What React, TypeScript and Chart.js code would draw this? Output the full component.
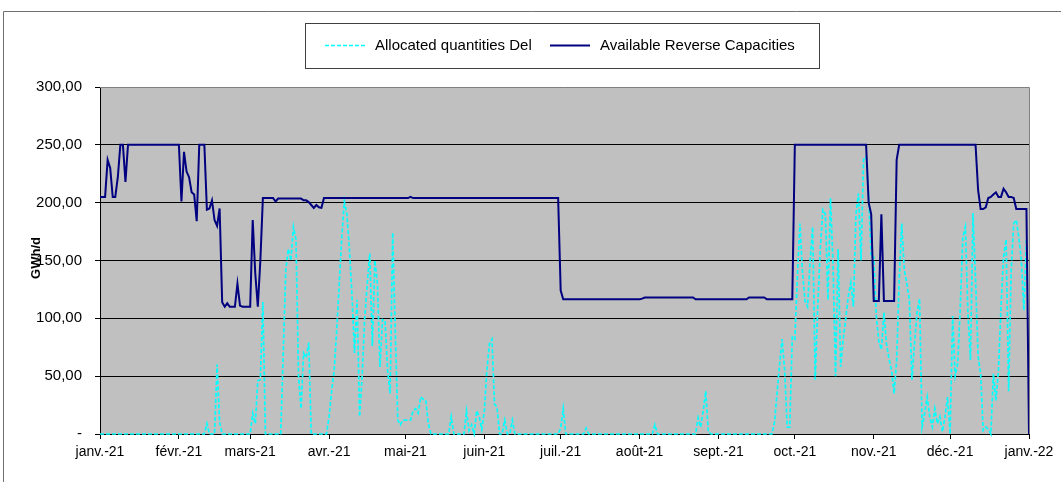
import React, { useEffect, useRef } from 'react';
import { Chart, registerables } from 'chart.js';

Chart.register(...registerables);

// Month tick positions (day index from 1 Jan 2021) and their labels
const monthStarts = [0, 31, 59, 90, 120, 151, 181, 212, 243, 273, 304, 334, 365];
const monthLabels = ['janv.-21', 'févr.-21', 'mars-21', 'avr.-21', 'mai-21', 'juin-21', 'juil.-21', 'août-21', 'sept.-21', 'oct.-21', 'nov.-21', 'déc.-21', 'janv.-22'];

const yTicks = [0, 50, 100, 150, 200, 250, 300];
const yTickLabels = ['-', '50,00', '100,00', '150,00', '200,00', '250,00', '300,00'];

const seriesNames = ['Allocated quantities Del', 'Available Reverse Capacities'];

// Daily values, 1 Jan 2021 .. 1 Jan 2022 (GWh/d)
const allocatedDel: (number | null)[] = [
  // janv.
  0, 0, 0, 0, 0, 0, 0, 0, 0, 0, 0, 0, 0, 0, 0, 0, 0, 0, 0, 0, 0, 0, 0, 0, 0, 0, 0, 0, 0, 0, 0,
  // févr.
  0, 0, 0, 0, 0, 0, 0, 0, 0, 0, 0, 9, 0, 0, 0, 60, 10, 0, 0, 0, 0, 0, 0, 0, 0, 0, 0, 0,
  // mars
  0, 18, 9, 46, 47, 114, 0, 0, 0, 0, 0, 0, 0, 70, 142, 160, 150, 179, 168, 50, 22, 70, 66, 79, 0, 0, 0, 0, 0, 0, 0,
  // avr.
  15, 37, 55, 90, 130, 170, 201, 190, 160, 120, 70, 116, 15, 50, 100, 130, 156, 76, 150, 130, 58, 99, 98, 55, 35, 174, 90, 12, 8, 12,
  // mai
  12, 12, 12, 20, 22, 18, 32, 30, 29, 9, 0, 0, 0, 0, 0, 0, 0, 0, 15, 0, 0, 0, 0, 0, 20, 3, 8, 0, 20, 15, 4,
  // juin
  20, 55, 78, 82, 26, 23, 0, 0, 12, 0, 0, 12, 0, 0, 0, 0, 0, 0, 0, 0, 0, 0, 0, 0, 0, 0, 0, 0, 0, 0,
  // juil.
  5, 22, 0, 0, 0, 0, 0, 0, 0, 0, 5, 0, 0, 0, 0, 0, 0, 0, 0, 0, 0, 0, 0, 0, 0, 0, 0, 0, 0, 0, 0,
  // août
  0, 0, 0, 0, 0, 0, 8, 0, 0, 0, 0, 0, 0, 0, 0, 0, 0, 0, 0, 0, 0, 0, 0, 14, 6, 20, 37, 2, 0, 0, 0,
  // sept.
  0, 0, 0, 0, 0, 0, 0, 0, 0, 0, 0, 0, 0, 0, 0, 0, 0, 0, 0, 0, 0, 0, 10, 35, 60, 82, 55, 6, 6, 84,
  // oct.
  82, 136, 182, 140, 115, 110, 150, 179, 47, 110, 160, 194, 190, 116, 204, 147, 50, 160, 58, 82, 100, 119, 131, 110, 190, 208, 150, 237, 240, 205, 153,
  // nov.
  153, 102, 80, 73, 105, 78, 65, 55, 35, 64, 133, 182, 142, 130, 116, 47, 78, 105, 117, 6, 18, 32, 15, 6, 22, 9, 15, 2, 15, 32,
  // déc.
  0, 102, 50, 61, 110, 170, 179, 105, 64, 191, 133, 67, 52, 3, 6, 4, 0, 52, 29, 55, 110, 153, 168, 37, 142, 182, 185, 170, 150, 107, 168,
  // janv.-22
  null,
];

const availableReverse: number[] = [
  // janv.
  205, 205, 205, 237, 230, 205, 205, 222, 250, 250, 218, 250, 250, 250, 250, 250, 250, 250, 250, 250, 250, 250, 250, 250, 250, 250, 250, 250, 250, 250, 250,
  // févr.
  250, 201, 244, 227, 222, 209, 207, 184, 250, 250, 250, 194, 195, 202, 185, 180, 195, 114, 110, 113, 110, 110, 110, 130, 111, 110, 110, 110,
  // mars
  110, 185, 139, 110, 150, 204, 204, 204, 204, 204, 201, 203.5, 203.5, 203.5, 203.5, 203.5, 203.5, 203.5, 203.5, 203.5, 203.5, 202, 202, 200.5, 198, 195.5, 198, 196, 195.5, 204, 204,
  // avr.
  204, 204, 204, 204, 204, 204, 204, 204, 204, 204, 204, 204, 204, 204, 204, 204, 204, 204, 204, 204, 204, 204, 204, 204, 204, 204, 204, 204, 204, 204,
  // mai
  204, 204, 205, 204, 204, 204, 204, 204, 204, 204, 204, 204, 204, 204, 204, 204, 204, 204, 204, 204, 204, 204, 204, 204, 204, 204, 204, 204, 204, 204, 204,
  // juin
  204, 204, 204, 204, 204, 204, 204, 204, 204, 204, 204, 204, 204, 204, 204, 204, 204, 204, 204, 204, 204, 204, 204, 204, 204, 204, 204, 204, 204, 204,
  // juil.
  124, 116.5, 116.5, 116.5, 116.5, 116.5, 116.5, 116.5, 116.5, 116.5, 116.5, 116.5, 116.5, 116.5, 116.5, 116.5, 116.5, 116.5, 116.5, 116.5, 116.5, 116.5, 116.5, 116.5, 116.5, 116.5, 116.5, 116.5, 116.5, 116.5, 116.5,
  // août
  116.5, 117, 118, 118, 118, 118, 118, 118, 118, 118, 118, 118, 118, 118, 118, 118, 118, 118, 118, 118, 118, 118, 116.5, 116.5, 116.5, 116.5, 116.5, 116.5, 116.5, 116.5, 116.5,
  // sept.
  116.5, 116.5, 116.5, 116.5, 116.5, 116.5, 116.5, 116.5, 116.5, 116.5, 116.5, 116.5, 118, 118, 118, 118, 118, 118, 118, 116.5, 116.5, 116.5, 116.5, 116.5, 116.5, 116.5, 116.5, 116.5, 116.5, 116.5,
  // oct.
  250, 250, 250, 250, 250, 250, 250, 250, 250, 250, 250, 250, 250, 250, 250, 250, 250, 250, 250, 250, 250, 250, 250, 250, 250, 250, 250, 250, 250, 200, 190,
  // nov.
  115, 115, 115, 190, 115, 115, 115, 115, 115, 237, 250, 250, 250, 250, 250, 250, 250, 250, 250, 250, 250, 250, 250, 250, 250, 250, 250, 250, 250, 250,
  // déc.
  250, 250, 250, 250, 250, 250, 250, 250, 250, 250, 250, 211, 194.5, 194.5, 196, 204, 205, 207, 209, 205, 205, 212, 209, 205, 205, 204, 194.5, 194.5, 194.5, 194.5, 194.5,
  // janv.-22
  0,
];

const FONT = "'Liberation Sans', Arial, sans-serif";

const decorPlugin = {
  id: 'decor',
  beforeDraw(chart: any) {
    const { ctx, chartArea: a } = chart;
    ctx.save();
    ctx.fillStyle = '#ffffff';
    ctx.fillRect(0, 0, chart.width, chart.height);
    ctx.fillStyle = '#C0C0C0';
    ctx.fillRect(a.left, a.top, a.right - a.left, a.bottom - a.top);
    ctx.restore();
  },
  afterDraw(chart: any) {
    const { ctx, chartArea: a } = chart;
    ctx.save();
    // plot area top/right border
    ctx.strokeStyle = '#808080';
    ctx.lineWidth = 1;
    ctx.beginPath();
    ctx.moveTo(a.left, Math.round(a.top) + 0.5);
    ctx.lineTo(Math.round(a.right) + 0.5, Math.round(a.top) + 0.5);
    ctx.lineTo(Math.round(a.right) + 0.5, a.bottom);
    ctx.stroke();

    // outer chart frame
    ctx.strokeStyle = '#707070';
    ctx.beginPath();
    ctx.moveTo(3.5, chart.height);
    ctx.lineTo(3.5, 11.5);
    ctx.lineTo(chart.width, 11.5);
    ctx.stroke();

    // legend box
    ctx.fillStyle = '#ffffff';
    ctx.fillRect(305, 23, 514, 45);
    ctx.strokeStyle = '#404040';
    ctx.strokeRect(305.5, 23.5, 514, 45);

    ctx.font = `15px ${FONT}`;
    ctx.textBaseline = 'middle';
    ctx.textAlign = 'left';
    ctx.fillStyle = '#000';

    ctx.lineWidth = 1.7;
    ctx.strokeStyle = '#00FFFF';
    ctx.setLineDash([4, 2]);
    ctx.beginPath();
    ctx.moveTo(325, 45.5);
    ctx.lineTo(366, 45.5);
    ctx.stroke();
    ctx.setLineDash([]);
    ctx.fillText(seriesNames[0], 375, 46);

    ctx.lineWidth = 2;
    ctx.strokeStyle = '#000080';
    ctx.beginPath();
    ctx.moveTo(550, 45.5);
    ctx.lineTo(590, 45.5);
    ctx.stroke();
    ctx.fillText(seriesNames[1], 600, 46);

    // y axis title
    ctx.translate(36, 258);
    ctx.rotate(-Math.PI / 2);
    ctx.font = `bold 13px ${FONT}`;
    ctx.textAlign = 'center';
    ctx.fillText('GWh/d', 0, 0);
    ctx.restore();
  },
};

export default function App() {
  const ref = useRef<HTMLCanvasElement | null>(null);

  useEffect(() => {
    if (!ref.current) return;
    const toPoints = (arr: (number | null)[]) => arr.map((v, i) => ({ x: i, y: v }));
    const chart = new Chart(ref.current, {
      type: 'line',
      data: {
        datasets: [
          {
            label: seriesNames[0],
            data: toPoints(allocatedDel) as any,
            borderColor: '#00FFFF',
            borderWidth: 1.7,
            borderDash: [4, 2],
            pointRadius: 0,
            tension: 0,
            fill: false,
            order: 2,
            spanGaps: false,
            clip: 3,
          },
          {
            label: seriesNames[1],
            data: toPoints(availableReverse) as any,
            borderColor: '#000080',
            borderWidth: 2,
            pointRadius: 0,
            tension: 0,
            fill: false,
            order: 1,
            clip: 3,
          },
        ],
      },
      options: {
        animation: false,
        responsive: false,
        devicePixelRatio: 1,
        layout: { padding: { top: 87, right: 32, bottom: 0, left: 0 } },
        plugins: {
          legend: { display: false },
          tooltip: { enabled: false },
          title: { display: false },
        },
        scales: {
          x: {
            type: 'linear',
            min: 0,
            max: 365,
            afterBuildTicks: (scale: any) => {
              scale.ticks = monthStarts.map((v) => ({ value: v }));
            },
            afterFit: (scale: any) => {
              scale.height = 48;
            },
            ticks: {
              autoSkip: false,
              maxRotation: 0,
              minRotation: 0,
              padding: 5,
              color: '#000',
              font: { family: FONT, size: 14 },
              callback: (v: any) => {
                const i = monthStarts.indexOf(Number(v));
                return i >= 0 ? monthLabels[i] : '';
              },
            },
            grid: {
              drawOnChartArea: false,
              drawTicks: true,
              tickLength: 5,
              color: '#000',
            },
            border: { display: true, color: '#000', width: 1 },
          },
          y: {
            type: 'linear',
            min: 0,
            max: 300,
            afterBuildTicks: (scale: any) => {
              scale.ticks = yTicks.map((v) => ({ value: v }));
            },
            afterFit: (scale: any) => {
              scale.width = 100;
            },
            ticks: {
              padding: 13,
              color: '#000',
              font: { family: FONT, size: 15 },
              callback: (v: any) => {
                const i = yTicks.indexOf(Number(v));
                return i >= 0 ? yTickLabels[i] : '';
              },
            },
            grid: {
              drawOnChartArea: true,
              drawTicks: true,
              tickLength: 5,
              color: (c: any) => (c.tick && c.tick.value === 300 ? 'rgba(0,0,0,0)' : '#000'),
              tickColor: '#000',
              lineWidth: 1,
            },
            border: { display: true, color: '#000', width: 1 },
          },
        },
      },
      plugins: [decorPlugin],
    });
    return () => chart.destroy();
  }, []);

  return (
    <div style={{ position: 'absolute', left: 0, top: 0, width: 1061, height: 482 }}>
      <canvas ref={ref} width={1061} height={482} style={{ display: 'block', width: 1061, height: 482 }} />
    </div>
  );
}
